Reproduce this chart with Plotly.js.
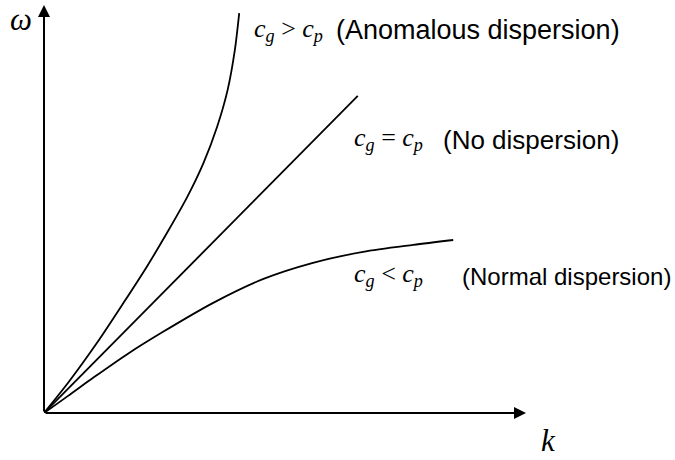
<!DOCTYPE html>
<html>
<head>
<meta charset="utf-8">
<script src="https://cdn.plot.ly/plotly-3.0.1.min.js"></script>
<style>
  html, body { margin: 0; padding: 0; background: #fff; }
  #chart { width: 675px; height: 460px; }
</style>
</head>
<body>
<div id="chart"></div>
<script>
// Dispersion relations omega(k), sketched in arbitrary units
const kAnomalous = [0, 0.50, 1.10, 1.65, 2.13, 2.55, 2.97, 3.31, 3.59, 3.81, 3.96, 4.05];
const wAnomalous = [0, 0.74, 1.72, 2.70, 3.58, 4.41, 5.29, 6.13, 7.01, 7.92, 8.90, 9.80];

const kLinear = [0, 6.51];
const wLinear = [0, 7.77];

const kNormal = [0, 0.50, 1.04, 1.75, 2.47, 3.51, 4.54, 5.58, 6.62, 7.66, 8.49];
const wNormal = [0, 0.42, 0.88, 1.46, 1.99, 2.70, 3.28, 3.68, 3.95, 4.12, 4.24];

const kMax = 10;
const wMax = 10;

const curve = { color: '#000', width: 1.8, shape: 'spline', smoothing: 0.8 };

const traces = [
  { x: kAnomalous, y: wAnomalous, mode: 'lines', line: curve, hoverinfo: 'skip' },
  { x: kLinear, y: wLinear, mode: 'lines', line: { color: '#000', width: 1.8 }, hoverinfo: 'skip' },
  { x: kNormal, y: wNormal, mode: 'lines', line: curve, hoverinfo: 'skip' }
];

const serifFamily = 'Liberation Serif, DejaVu Serif, serif';
const sansFamily = 'Liberation Sans, Arial, sans-serif';
const mathFont = { family: serifFamily, size: 26, color: '#000' };

function axisArrow(x, y) {
  return {
    x: x, y: y, ax: 0, ay: 0, xref: 'x', yref: 'y', axref: 'x', ayref: 'y',
    text: '', showarrow: true, arrowhead: 2, arrowsize: 1.2, arrowwidth: 2,
    arrowcolor: '#000', standoff: 0, startstandoff: 0
  };
}

// plotting area in page pixels: left 44, right 526, top 5, bottom 413
function px(p) { return (p - 44) / 482; }
function py(p) { return (413 - p) / 408; }

function label(x, y, text, font) {
  return {
    x: px(x), y: py(y), xref: 'paper', yref: 'paper', xanchor: 'left', yanchor: 'middle',
    text: text, showarrow: false, font: font
  };
}

function sans(size) { return { family: sansFamily, size: size, color: '#000' }; }

const annotations = [
  axisArrow(kMax, 0),
  axisArrow(0, wMax),
  label(8, 20, '<i>ω</i>', { family: serifFamily, size: 31, color: '#000' }),
  label(539, 440, '<i>k</i>', { family: serifFamily, size: 31, color: '#000' }),

  label(252, 30, '<i>c</i><sub><i>g</i></sub> &gt; <i>c</i><sub><i>p</i></sub>', mathFont),
  label(334, 30, '(Anomalous dispersion)', sans(27)),

  label(352, 139, '<i>c</i><sub><i>g</i></sub> = <i>c</i><sub><i>p</i></sub>', mathFont),
  label(441, 140, '(No dispersion)', sans(26)),

  label(352, 275, '<i>c</i><sub><i>g</i></sub> &lt; <i>c</i><sub><i>p</i></sub>', mathFont),
  label(460, 276, '(Normal dispersion)', sans(24))
];

const hidden = { visible: false, showgrid: false, zeroline: false, fixedrange: true };

const layout = {
  width: 675, height: 460,
  margin: { l: 44, r: 149, t: 5, b: 47, pad: 0 },
  paper_bgcolor: '#fff', plot_bgcolor: '#fff',
  showlegend: false,
  xaxis: Object.assign({ range: [0, kMax] }, hidden),
  yaxis: Object.assign({ range: [0, wMax] }, hidden),
  annotations: annotations
};

Plotly.newPlot('chart', traces, layout, { staticPlot: true, displayModeBar: false });
</script>
</body>
</html>
